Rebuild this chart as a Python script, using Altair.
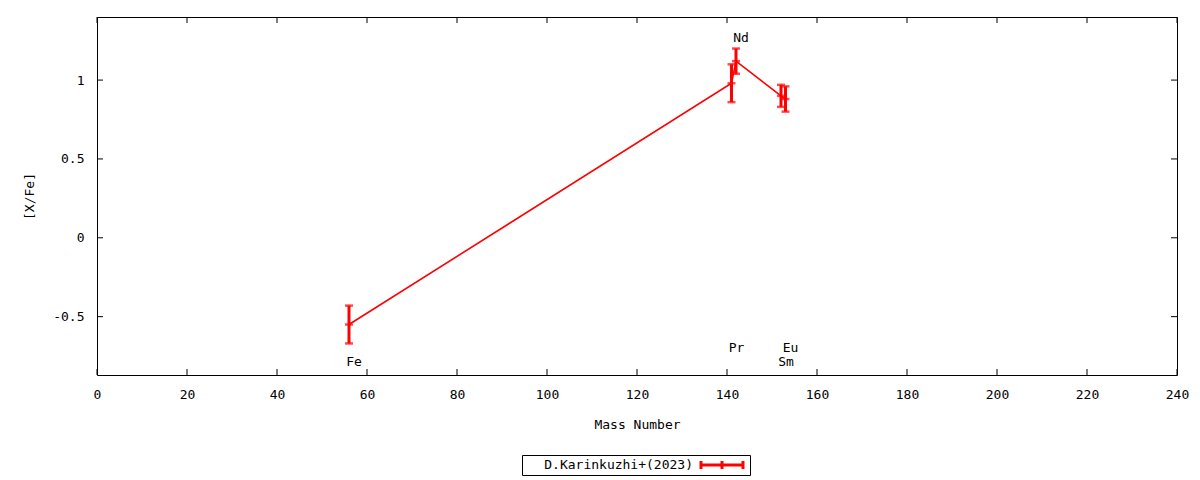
import altair as alt
import pandas as pd

# ---- data ----
elements = ["Fe", "Pr", "Nd", "Sm", "Eu"]
mass = [56, 141, 142, 152, 153]
xfe = [-0.55, 0.98, 1.12, 0.90, 0.88]
err = [0.12, 0.12, 0.08, 0.07, 0.08]
label_y = [-0.79, -0.70, 1.27, -0.79, -0.70]

x_ticks = [0, 20, 40, 60, 80, 100, 120, 140, 160, 180, 200, 220, 240]
y_ticks = [-0.5, 0, 0.5, 1]
legend_label = "D.Karinkuzhi+(2023)"

FONT = "DejaVu Sans Mono"
RED = "#ff0000"
W, H = 1080, 358

df = pd.DataFrame({"el": elements, "mass": mass, "v": xfe, "err": err, "ly": label_y})
df["lo"] = df["v"] - df["err"]
df["hi"] = df["v"] + df["err"]

xs = alt.Scale(domain=[0, 240], nice=False, zero=False)
ys = alt.Scale(domain=[-0.87, 1.4], nice=False, zero=False)

xaxis = alt.Axis(values=x_ticks, labelExpr="datum.value", ticks=False, domain=False, grid=False,
                 labelPadding=13, labelFlush=False, title="Mass Number", titlePadding=17,
                 labelFont=FONT, titleFont=FONT, labelFontSize=13, titleFontSize=13,
                 titleFontWeight="normal", labelColor="black", titleColor="black")
yaxis = alt.Axis(values=y_ticks, labelExpr="datum.value", ticks=False, domain=False, grid=False,
                 labelPadding=13, labelFlush=False, title="[X/Fe]", titlePadding=16,
                 labelFont=FONT, titleFont=FONT, labelFontSize=13, titleFontSize=13,
                 titleFontWeight="normal", labelColor="black", titleColor="black")

base = alt.Chart(df)

line = base.mark_line(color=RED, strokeWidth=1.6).encode(
    x=alt.X("mass:Q", scale=xs, axis=xaxis),
    y=alt.Y("v:Q", scale=ys, axis=yaxis),
    order="mass:Q",
)
bars = base.mark_rule(color=RED, strokeWidth=3).encode(
    x=alt.X("mass:Q", scale=xs), y=alt.Y("lo:Q", scale=ys), y2="hi:Q"
)
cap_lo = base.mark_tick(color=RED, orient="horizontal", size=8, thickness=2.5).encode(
    x=alt.X("mass:Q", scale=xs), y=alt.Y("lo:Q", scale=ys)
)
cap_hi = base.mark_tick(color=RED, orient="horizontal", size=8, thickness=2.5).encode(
    x=alt.X("mass:Q", scale=xs), y=alt.Y("hi:Q", scale=ys)
)
cap_mid = base.mark_tick(color=RED, orient="horizontal", size=8, thickness=2.5).encode(
    x=alt.X("mass:Q", scale=xs), y=alt.Y("v:Q", scale=ys)
)
labels = base.mark_text(font=FONT, fontSize=13, color="black", dx=5, baseline="middle").encode(
    x=alt.X("mass:Q", scale=xs), y=alt.Y("ly:Q", scale=ys), text="el:N"
)

# inward ticks on all four sides
xt = pd.DataFrame({"t": x_ticks})
yt = pd.DataFrame({"t": y_ticks})
xt_bottom = alt.Chart(xt).mark_rule(color="black").encode(
    x=alt.X("t:Q", scale=xs), y=alt.value(H), y2=alt.value(H - 6))
xt_top = alt.Chart(xt).mark_rule(color="black").encode(
    x=alt.X("t:Q", scale=xs), y=alt.value(0), y2=alt.value(6))
yt_left = alt.Chart(yt).mark_rule(color="black").encode(
    y=alt.Y("t:Q", scale=ys), x=alt.value(0), x2=alt.value(6))
yt_right = alt.Chart(yt).mark_rule(color="black").encode(
    y=alt.Y("t:Q", scale=ys), x=alt.value(W), x2=alt.value(W - 6))

one = pd.DataFrame({"k": [legend_label]})

# crisp black frame around the plot area
frame = alt.Chart(one).mark_rect(fill=None, stroke="black", strokeWidth=1).encode(
    x=alt.value(0.5), x2=alt.value(W + 0.5), y=alt.value(0.5), y2=alt.value(H + 0.5))

# manual legend below the plot
LX0, LX1, LY0, LY1 = 425.5, 653.5, 438.5, 458.5
LYC = 448
leg_box = alt.Chart(one).mark_rect(fill="white", stroke="black", strokeWidth=1).encode(
    x=alt.value(LX0), x2=alt.value(LX1), y=alt.value(LY0), y2=alt.value(LY1))
leg_text = alt.Chart(one).mark_text(font=FONT, fontSize=13, align="right", baseline="middle",
                                    color="black").encode(
    x=alt.value(596), y=alt.value(LYC), text="k:N")
leg_line = alt.Chart(one).mark_rule(color=RED, strokeWidth=3).encode(
    x=alt.value(604), x2=alt.value(646), y=alt.value(LYC))
leg_caps = alt.Chart(pd.DataFrame({"px": [604, 625, 646]})).mark_rule(
    color=RED, strokeWidth=3).encode(
    x=alt.X("px:Q", scale=None), y=alt.value(LYC - 4), y2=alt.value(LYC + 4))

chart = alt.layer(
    line, bars, cap_lo, cap_hi, cap_mid, labels,
    xt_bottom, xt_top, yt_left, yt_right, frame,
    leg_box, leg_text, leg_line, leg_caps,
).properties(
    width=W, height=H,
    autosize=alt.AutoSizeParams(type="none"),
    padding={"left": 89, "top": 9, "right": 15, "bottom": 104},
).configure_view(stroke=None).configure(background="white")

chart.save("out.html", embed_options={"renderer": "svg", "actions": False})
